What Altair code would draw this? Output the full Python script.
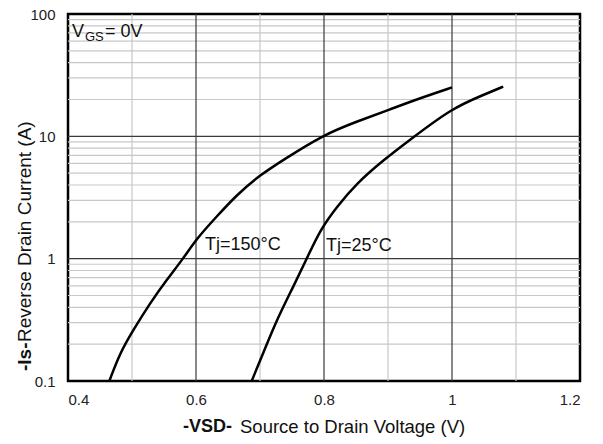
import altair as alt
import pandas as pd

# Reverse-diode characteristic: -Is vs -VSD at two junction temperatures
vsd_150 = [0.4646, 0.481, 0.502, 0.528, 0.554, 0.580, 0.601, 0.632, 0.6635,
           0.70, 0.736, 0.799, 0.851, 0.903, 0.95, 1.0]
is_150 = [0.1, 0.169, 0.261, 0.431, 0.67, 1.0, 1.46, 2.2, 3.32,
          4.83, 6.4, 10.3, 13.2, 16.6, 20.5, 25.1]

vsd_25 = [0.687, 0.705, 0.726, 0.752, 0.773, 0.794, 0.820, 0.851, 0.893,
          0.934, 1.0, 1.049, 1.080]
is_25 = [0.1, 0.169, 0.315, 0.59, 1.0, 1.72, 2.66, 4.13, 6.4,
         9.34, 17.0, 21.8, 25.5]

# Curve labels
tj_labels = ["Tj=150°C", "Tj=25°C"]
tj_x = [0.614, 0.803]
tj_y = [1.29, 1.27]

# Axis ticks and grid positions
x_ticks = [0.4, 0.6, 0.8, 1.0, 1.2]
y_ticks = [0.1, 1, 10, 100]
x_major = [0.6, 0.8, 1.0]
x_minor = [0.5, 0.7, 0.9, 1.1]
y_major = [1, 10]
y_minor = [0.2, 0.3, 0.4, 0.5, 0.6, 0.7, 0.8, 0.9,
           2, 3, 4, 5, 6, 7, 8, 9,
           20, 30, 40, 50, 60, 70, 80, 90]

FONT = "Liberation Sans"

curves = pd.DataFrame({
    "vsd": vsd_150 + vsd_25,
    "is": is_150 + is_25,
    "series": ["150"] * len(vsd_150) + ["25"] * len(vsd_25),
})
labels = pd.DataFrame({"t": tj_labels, "vsd": tj_x, "is": tj_y})

xscale = alt.Scale(domain=[0.4, 1.2], nice=False, zero=False)
yscale = alt.Scale(type="log", domain=[0.1, 100], nice=False)
xaxis = alt.Axis(values=x_ticks, title="", grid=False, ticks=False, domain=False,
                 labelPadding=11,
                 labelExpr="datum.value == 1 ? '1' : format(datum.value, '.1f')")
yaxis = alt.Axis(values=y_ticks, title="", grid=False, ticks=False, domain=False,
                 labelPadding=13, format="~g")

X = lambda f: alt.X(f, scale=xscale, axis=xaxis)
Y = lambda f: alt.Y(f, scale=yscale, axis=yaxis)

minor_v = alt.Chart(pd.DataFrame({"v": x_minor})).mark_rule(
    color="#c8c8c8", strokeWidth=1.2).encode(x=X("v:Q"))
minor_h = alt.Chart(pd.DataFrame({"v": y_minor})).mark_rule(
    color="#c8c8c8", strokeWidth=1.2).encode(y=Y("v:Q"))
major_v = alt.Chart(pd.DataFrame({"v": x_major})).mark_rule(
    color="#3a3a3a", strokeWidth=1.2).encode(x=X("v:Q"))
major_h = alt.Chart(pd.DataFrame({"v": y_major})).mark_rule(
    color="#3a3a3a", strokeWidth=1.2).encode(y=Y("v:Q"))

lines = alt.Chart(curves).mark_line(
    color="black", strokeWidth=2.5, interpolate="basis"
).encode(x=X("vsd:Q"), y=Y("is:Q"), detail="series:N")

curve_text = alt.Chart(labels).mark_text(
    font=FONT, fontSize=18, align="left", baseline="middle", color="#111"
).encode(x=X("vsd:Q"), y=Y("is:Q"), text="t:N")


def note(text, x, y, size=18, weight="normal", angle=0, baseline="middle"):
    return alt.Chart(pd.DataFrame({"t": [text]})).mark_text(
        font=FONT, fontSize=size, fontWeight=weight, align="left",
        baseline=baseline, angle=angle, color="#111"
    ).encode(x=alt.value(x), y=alt.value(y), text="t:N")


# V_GS = 0V with subscript
vgs = [
    note("V", 4, 23, 18, baseline="alphabetic"),
    note("GS", 17, 27, 13, baseline="alphabetic"),
    note("= 0V", 37, 23, 18, baseline="alphabetic"),
]

# Axis titles with bold symbol prefix
titles = [
    note("-VSD-", 115, 413, 18, "bold"),
    note("Source to Drain Voltage (V)", 172, 413, 18.5),
    note("-Is-", -43, 357, 19, "bold", angle=270),
    note("Reverse  Drain Current (A)", -43, 328, 19, angle=270),
]

chart = alt.layer(
    minor_v, minor_h, major_v, major_h, lines, curve_text, *vgs, *titles
).properties(
    width=512, height=367,
    padding={"left": 68, "top": 14, "right": 23, "bottom": 63},
    autosize=alt.AutoSizeParams(type="none"),
).configure_view(
    stroke="black", strokeWidth=2.5
).configure_axis(
    labelFont=FONT, labelFontSize=15, labelColor="#222"
)

chart.save("out.html", embed_options={"renderer": "svg", "actions": False})
